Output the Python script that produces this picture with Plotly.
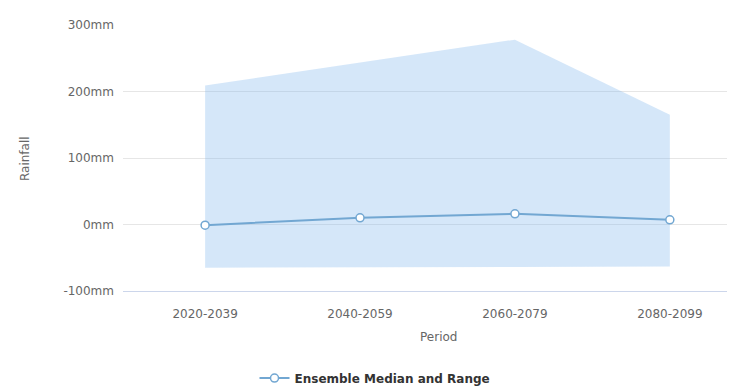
import plotly.graph_objects as go

# Dados
periods = ["2020-2039", "2040-2059", "2060-2079", "2080-2099"]
median_mm = [-1, 10, 16, 7]
range_low = [-65, -65, -64, -63]
range_high = [209, 244, 278, 165]
y_ticks = [-100, 0, 100, 200, 300]
y_tick_text = ["-100mm", "0mm", "100mm", "200mm", "300mm"]

LINE_COLOR = "#72a7d2"
FILL_COLOR = "rgba(124,181,236,0.32)"
FONT = "DejaVu Sans, Verdana, sans-serif"

fig = go.Figure()

# faixa (range) do ensemble
fig.add_trace(go.Scatter(
    x=periods, y=range_low, mode="lines",
    line=dict(width=0, color=LINE_COLOR),
    showlegend=False, hoverinfo="skip"
))
fig.add_trace(go.Scatter(
    x=periods, y=range_high, mode="lines",
    line=dict(width=0, color=LINE_COLOR),
    fill="tonexty", fillcolor=FILL_COLOR,
    showlegend=False, hoverinfo="skip"
))

# mediana
fig.add_trace(go.Scatter(
    x=periods, y=median_mm, mode="lines+markers",
    name="Ensemble Median and Range",
    line=dict(color=LINE_COLOR, width=2),
    marker=dict(symbol="circle", size=8, color="white",
                line=dict(color=LINE_COLOR, width=1.5))
))

fig.update_layout(
    width=735, height=389,
    margin=dict(l=115, r=5, t=17, b=100),
    paper_bgcolor="white", plot_bgcolor="white",
    font=dict(family=FONT, size=12, color="#666666"),
    showlegend=True,
    legend=dict(orientation="h", x=(367 - 115) / 615, xanchor="center",
                y=(289 - 378) / 272, yanchor="middle",
                font=dict(size=12, color="#333333", family=FONT, weight="bold"),
                itemwidth=30),
    xaxis=dict(
        type="category", range=[-0.53, 3.44],
        showgrid=False, showline=True, linecolor="#ccd6eb", linewidth=1,
        ticks="", ticklabelstandoff=12,
        tickfont=dict(size=12, color="#666666"),
        fixedrange=True
    ),
    yaxis=dict(
        range=[-100, 300], tickvals=y_ticks, ticktext=y_tick_text,
        showgrid=True, gridcolor="#e6e6e6", gridwidth=1,
        zeroline=False, showline=False, ticks="",
        ticklabelstandoff=8,
        tickfont=dict(size=12, color="#666666"),
        fixedrange=True
    ),
    annotations=[
        dict(text="Period", xref="paper", yref="paper",
             x=(430 - 115) / 615, y=(289 - 336) / 272,
             xanchor="center", yanchor="middle", showarrow=False,
             font=dict(size=12, color="#666666")),
        dict(text="Rainfall", xref="paper", yref="paper",
             x=(17 - 115) / 615, y=0.5, textangle=-90,
             xanchor="center", yanchor="middle", showarrow=False,
             font=dict(size=12, color="#666666")),
    ],
)

fig.write_html("out.html")
